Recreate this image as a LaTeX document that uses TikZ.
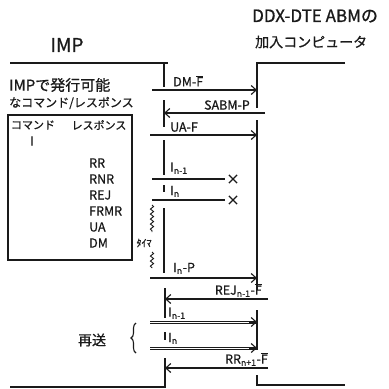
\documentclass[tikz,border=0pt]{standalone}
\usepackage{fontspec}
\setmainfont{Noto Sans CJK JP}[FakeBold=0.8]
\usetikzlibrary{arrows.meta,positioning,decorations.pathmorphing,decorations.pathreplacing,shapes.misc}
\definecolor{Ink}{HTML}{1A1A1A}
\newcommand{\Fbar}{$\overline{\mbox{F}}$}
\tikzset{
  life/.style={draw=Ink,line width=1.4pt},
  msg/.style={-{Straight Barb[length=5pt,width=9pt,line width=1.1pt]},draw=Ink,line width=1.3pt},
  resend/.style={msg,line width=3pt,postaction={draw=white,line width=1pt,shorten >=8pt,-}},
  lost/.style={draw=Ink,line width=1.8pt},
  lossx/.style={cross out,draw=Ink,line width=1.2pt,minimum size=7pt,inner sep=0pt},
  lbl/.style={font=\fontsize{12.5}{13}\selectfont,text=Ink,inner sep=0pt},
  sm/.style={font=\fontsize{11}{12}\selectfont,text=Ink,inner sep=0pt},
  head/.style={font=\fontsize{17}{18}\selectfont,text=Ink,inner sep=0pt},
  note/.style={font=\fontsize{13}{15}\selectfont,text=Ink,inner sep=0pt},
  tab/.style={draw=Ink,line width=1.4pt,minimum width=124pt,minimum height=145pt,inner sep=0pt},
  timer/.style={draw=Ink,line width=.9pt,decorate,decoration={snake,amplitude=1.6pt,segment length=5pt}},
  grp/.style={draw=Ink,line width=1.1pt,decorate,decoration={brace,amplitude=5pt}}
}
\begin{document}
\begin{tikzpicture}[x=1pt,y=-1pt]
\useasboundingbox (0,0) rectangle (389,389);
% station headings
\node[head,font=\fontsize{19}{20}\selectfont] (imp) at (67,45) {IMP};
\node[head,anchor=west] (ddx) at (252,16) {DDX-DTE ABMの};
\node[head,anchor=west,font=\fontsize{14}{16}\selectfont] (host) at (255,42) {加入コンピュータ};
\node[note,anchor=west,font=\fontsize{15}{16}\selectfont] (cap1) at (9,85) {IMPで発行可能};
\node[note,anchor=west,font=\fontsize{12}{14}\selectfont] (cap2) at (9,103) {なコマンド/レスポンス};
% command / response table
\node[tab] (tab) at (70,187.5) {};
\node[sm] (cmd) at (33,125) {コマンド};
\node[sm] (rsp) at (99,125) {レスポンス};
\node[lbl] (ifr) at (32,141) {I};
\foreach \r [count=\k] in {RR,RNR,REJ,FRMR,UA,DM}
  \node[lbl,anchor=west] (rsp\k) at (89,147+16*\k) {\r};
% IMP lifeline
\draw[life] (10,63) -- (168,63);
\foreach \a/\b in {63/87,100/127,140/175,185/192,208/273}
  \draw[life] (164,\a) -- (164,\b);
\foreach \a/\b in {288/318,332/340}
  \draw[life] (165,\a) -- (165,\b);
\draw[life] (165,358) -- (165,387) -- (10,387);
% computer lifeline
\draw[life] (345,63) -- (257,63) -- (257,108);
\draw[life] (257,120) -- (257,290);
\draw[life] (257,310) -- (257,350);
\draw[life] (257,375) -- (257,385) -- (345,385);
% link end points
\coordinate (dmL) at (152,90);   \coordinate (dmR) at (257,90);
\coordinate (sabmR) at (265,113); \coordinate (sabmL) at (164,113);
\coordinate (uaL) at (150,135);  \coordinate (uaR) at (257,135);
\coordinate (iaL) at (152,179);
\coordinate (ibL) at (152,200);
\coordinate (ipL) at (150,278);  \coordinate (ipR) at (257,278);
\coordinate (rejR) at (268,299); \coordinate (rejL) at (165,299);
\coordinate (raL) at (150,322);  \coordinate (raR) at (257,322);
\coordinate (rbL) at (150,348);  \coordinate (rbR) at (257,348);
\coordinate (rrR) at (268,368);  \coordinate (rrL) at (165,368);
% set-up
\draw[msg] (dmL) -- (dmR);
\node[lbl,above right=3.5pt and 21pt of dmL] (dmlbl) {DM-\Fbar};
\draw[msg] (sabmR) -- (sabmL);
\node[lbl,above left=3pt and 15pt of sabmR] (sabmlbl) {SABM-P};
\draw[msg] (uaL) -- (uaR);
\node[lbl,above right=3pt and 20pt of uaL] (ualbl) {UA-F};
% lost frames
\node[lossx] (xa) at (233,179) {};
\draw[lost,shorten >=4pt] (iaL) -- (xa);
\node[lbl,above right=5pt and 18pt of iaL] (ialbl) {I\textsubscript{n-1}};
\node[lossx] (xb) at (233,200) {};
\draw[lost,shorten >=4pt] (ibL) -- (xb);
\node[lbl,above right=3pt and 18pt of ibL] (iblbl) {I\textsubscript{n}};
% timer
\draw[timer] (152,205) -- (152,232);
\draw[timer] (152,252) -- (152,268);
\node[sm,font=\fontsize{10}{11}\selectfont] (tmr) at (144,243) {ﾀｲﾏ};
% poll and reject
\draw[msg] (ipL) -- (ipR);
\node[lbl,above right=4pt and 23pt of ipL] (iplbl) {I\textsubscript{n}-P};
\draw[msg] (rejR) -- (rejL);
\node[lbl,above left=2pt and 6pt of rejR] (rejlbl) {REJ\textsubscript{n-1}-\Fbar};
% retransmission
\draw[resend] (raL) -- (raR);
\node[lbl,above right=3pt and 18pt of raL] (ralbl) {I\textsubscript{n-1}};
\draw[resend] (rbL) -- (rbR);
\node[lbl,above right=4pt and 18pt of rbL] (rblbl) {I\textsubscript{n}};
\draw[msg] (rrR) -- (rrL);
\node[lbl,above left=2pt and 0pt of rrR] (rrlbl) {RR\textsubscript{n+1}-\Fbar};
\draw[grp] (136,353) -- (136,323);
\node[note,font=\fontsize{14}{15}\selectfont] (again) at (92,340) {再送};
\end{tikzpicture}
\end{document}
